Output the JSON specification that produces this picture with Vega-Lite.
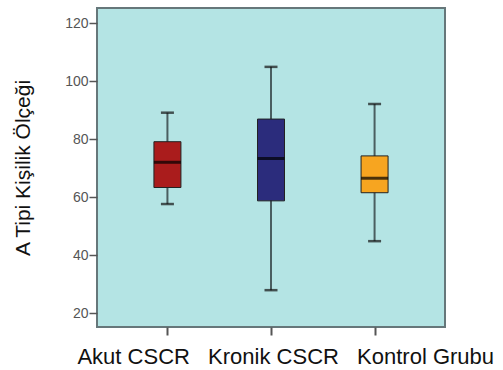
{
  "$schema": "https://vega.github.io/schema/vega-lite/v6.json",
  "autosize": {"type": "none"},
  "width": 348,
  "height": 319,
  "padding": {"left": 97, "top": 8, "right": 58, "bottom": 43},
  "background": "white",
  "config": {
    "view": {"fill": "#b4e4e4", "stroke": "#66777a", "strokeWidth": 2},
    "font": "Liberation Sans"
  },
  "data": {
    "values": [
      {"group": "Akut CSCR", "lo": 57.7, "q1": 63.4, "med": 72.1, "q3": 79.2, "hi": 89.2},
      {"group": "Kronik CSCR", "lo": 28.0, "q1": 58.8, "med": 73.4, "q3": 87.0, "hi": 105.0},
      {"group": "Kontrol Grubu", "lo": 44.9, "q1": 61.6, "med": 66.6, "q3": 74.3, "hi": 92.2}
    ]
  },
  "encoding": {
    "x": {
      "field": "group",
      "type": "nominal",
      "sort": ["Akut CSCR", "Kronik CSCR", "Kontrol Grubu"],
      "scale": {"type": "point", "padding": 0.68},
      "axis": {
        "title": null,
        "labelAngle": 0,
        "domain": false,
        "tickSize": 8,
        "tickColor": "#555",
        "tickWidth": 2,
        "labelFontSize": 22,
        "labelColor": "#111",
        "labelPadding": 11,
        "labelOverlap": false,
        "labelFlush": false,
        "labelBound": false,
        "labelAlign": {
          "condition": [
            {"test": "datum.value == 'Akut CSCR'", "value": "right"},
            {"test": "datum.value == 'Kontrol Grubu'", "value": "left"}
          ],
          "value": "center"
        },
        "labelOffset": {
          "condition": [
            {"test": "datum.value == 'Akut CSCR'", "value": 22},
            {"test": "datum.value == 'Kontrol Grubu'", "value": -18}
          ],
          "value": 2
        }
      }
    }
  },
  "layer": [
    {
      "mark": {"type": "rule", "color": "#4a5e60", "strokeWidth": 2},
      "encoding": {
        "y": {
          "field": "lo",
          "type": "quantitative",
          "scale": {"domain": [15.3, 125.3], "nice": false, "zero": false},
          "axis": {
            "title": "A Tipi Kişilik Ölçeği",
            "titleFontSize": 21,
            "titleFontWeight": "normal",
            "titleColor": "#111",
            "titleAngle": -90,
            "titleAlign": "center",
            "titleBaseline": "alphabetic",
            "titleX": -68,
            "titleY": 159.5,
            "values": [20, 40, 60, 80, 100, 120],
            "grid": false,
            "domain": false,
            "tickSize": 8,
            "tickColor": "#555",
            "tickWidth": 1.5,
            "labelFontSize": 14,
            "labelColor": "#555",
            "labelPadding": 1
          }
        },
        "y2": {"field": "hi"}
      }
    },
    {
      "mark": {"type": "tick", "color": "#111", "size": 13, "thickness": 2.5},
      "encoding": {"y": {"field": "lo", "type": "quantitative"}}
    },
    {
      "mark": {"type": "tick", "color": "#111", "size": 13, "thickness": 2.5},
      "encoding": {"y": {"field": "hi", "type": "quantitative"}}
    },
    {
      "mark": {"type": "bar", "size": 27, "stroke": "#222", "strokeWidth": 1},
      "encoding": {
        "y": {"field": "q1", "type": "quantitative"},
        "y2": {"field": "q3"},
        "color": {
          "field": "group",
          "type": "nominal",
          "scale": {"domain": ["Akut CSCR", "Kronik CSCR", "Kontrol Grubu"], "range": ["#aa1c1c", "#2b2c7c", "#f7a520"]},
          "legend": null
        }
      }
    },
    {
      "mark": {"type": "tick", "color": "#000", "size": 27, "thickness": 3},
      "encoding": {"y": {"field": "med", "type": "quantitative"}}
    }
  ]
}
